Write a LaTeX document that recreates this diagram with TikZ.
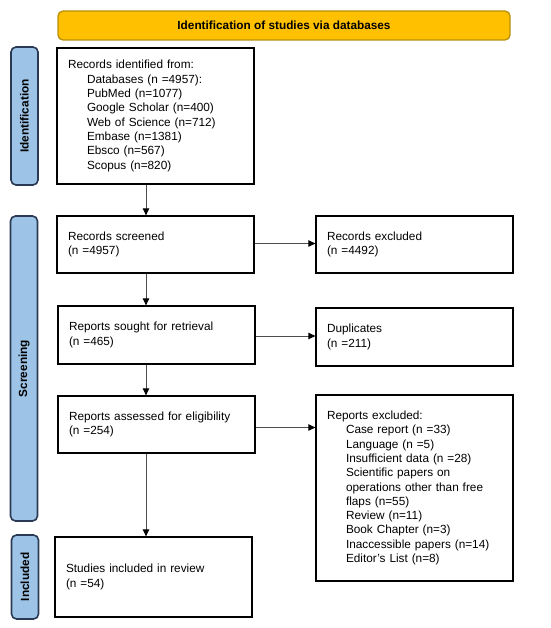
\documentclass[tikz,border=0pt]{standalone}
\usepackage{fontspec}
\setmainfont{Liberation Sans}
\usetikzlibrary{arrows.meta,calc}
\definecolor{gold}{HTML}{FFC000}
\definecolor{golddark}{HTML}{B8900A}
\definecolor{sideblue}{HTML}{9DC3E6}
\definecolor{sidenavy}{HTML}{2A3A55}
\newcommand{\ind}{\hspace*{19pt}}
\begin{document}
\begin{tikzpicture}[x=1pt,y=-1pt,
  every node/.style={font=\fontsize{11.8}{14.3}\selectfont},
  box/.style={draw=black,line width=1.3pt,fill=white,inner xsep=11pt,inner ysep=0pt,
    text width=175pt,minimum width=197pt,align=left},
  header/.style={draw=golddark,line width=1.3pt,fill=gold,rounded corners=5pt,
    minimum width=452pt,minimum height=29pt,inner sep=0pt,
    font=\fontsize{11.8}{14.3}\selectfont\bfseries},
  side/.style={draw=sidenavy,line width=1.6pt,fill=sideblue,rounded corners=5pt,
    minimum width=27pt,inner sep=0pt},
  sidelabel/.style={rotate=90,font=\fontsize{11.8}{14.3}\selectfont\bfseries},
  arr/.style={draw=black!70,line width=0.9pt,-{Triangle[length=7pt,width=6.5pt,color=black]}}]
\useasboundingbox (0,0) rectangle (550,628);

\node[header] (hdr) at (284,25.5) {Identification of studies via databases};

\node[side,minimum height=138pt] (sid) at (24.5,116) {};
\node[sidelabel] (sidl) at (sid.center) {Identification};
\node[side,minimum height=305pt] (sscr) at (24,368.5) {};
\node[sidelabel] (sscrl) at (sscr.center) {Screening};
\node[side,minimum height=84pt] (sinc) at (25,577) {};
\node[sidelabel] (sincl) at (sinc.center) {Included};

\node[box,minimum height=136pt] (b1) at (155.5,116) {Records identified from:\\
\ind Databases (n =4957):\\
\ind PubMed (n=1077)\\
\ind Google Scholar (n=400)\\
\ind Web of Science (n=712)\\
\ind Embase (n=1381)\\
\ind Ebsco (n=567)\\
\ind Scopus (n=820)\\[6pt]};

\node[box,minimum height=57pt] (b2) at (155.5,244.5) {Records screened\\(n =4957)};
\node[box,minimum height=57pt] (e1) at (414.5,244.5) {Records excluded\\(n =4492)};

\node[box,minimum height=58pt] (b3) at (156.5,335) {Reports sought for retrieval\\(n =465)};
\node[box,minimum height=58pt] (e2) at (414.5,337) {Duplicates\\(n =211)};

\node[box,minimum height=57pt] (b4) at (156.5,424.5) {Reports assessed for eligibility\\(n =254)};
\node[box,minimum height=186pt] (e3) at (414.5,488) {Reports excluded:\\
\ind Case report (n =33)\\
\ind Language (n =5)\\
\ind Insufficient data (n =28)\\
\ind Scientific papers on\\
\ind operations other than free\\
\ind flaps (n=55)\\
\ind Review (n=11)\\
\ind Book Chapter (n=3)\\
\ind Inaccessible papers (n=14)\\
\ind Editor's List (n=8)};

\node[box,minimum height=80pt] (b5) at (153.5,577) {Studies included in review\\(n =54)};

\coordinate (ax) at (146,0);
\draw[arr] (b1.south -| ax) -- (b2.north -| ax);
\draw[arr] (b2.south -| ax) -- (b3.north -| ax);
\draw[arr] (b3.south -| ax) -- (b4.north -| ax);
\draw[arr] (b4.south -| ax) -- (b5.north -| ax);
\draw[arr] ([yshift=1pt]b2.east) -- ([yshift=1pt]b2.east -| e1.west);
\draw[arr] ([yshift=-1pt]b3.east) -- ([yshift=-1pt]b3.east -| e2.west);
\draw[arr] ([yshift=-3pt]b4.east) -- ([yshift=-3pt]b4.east -| e3.west);
\end{tikzpicture}
\end{document}
